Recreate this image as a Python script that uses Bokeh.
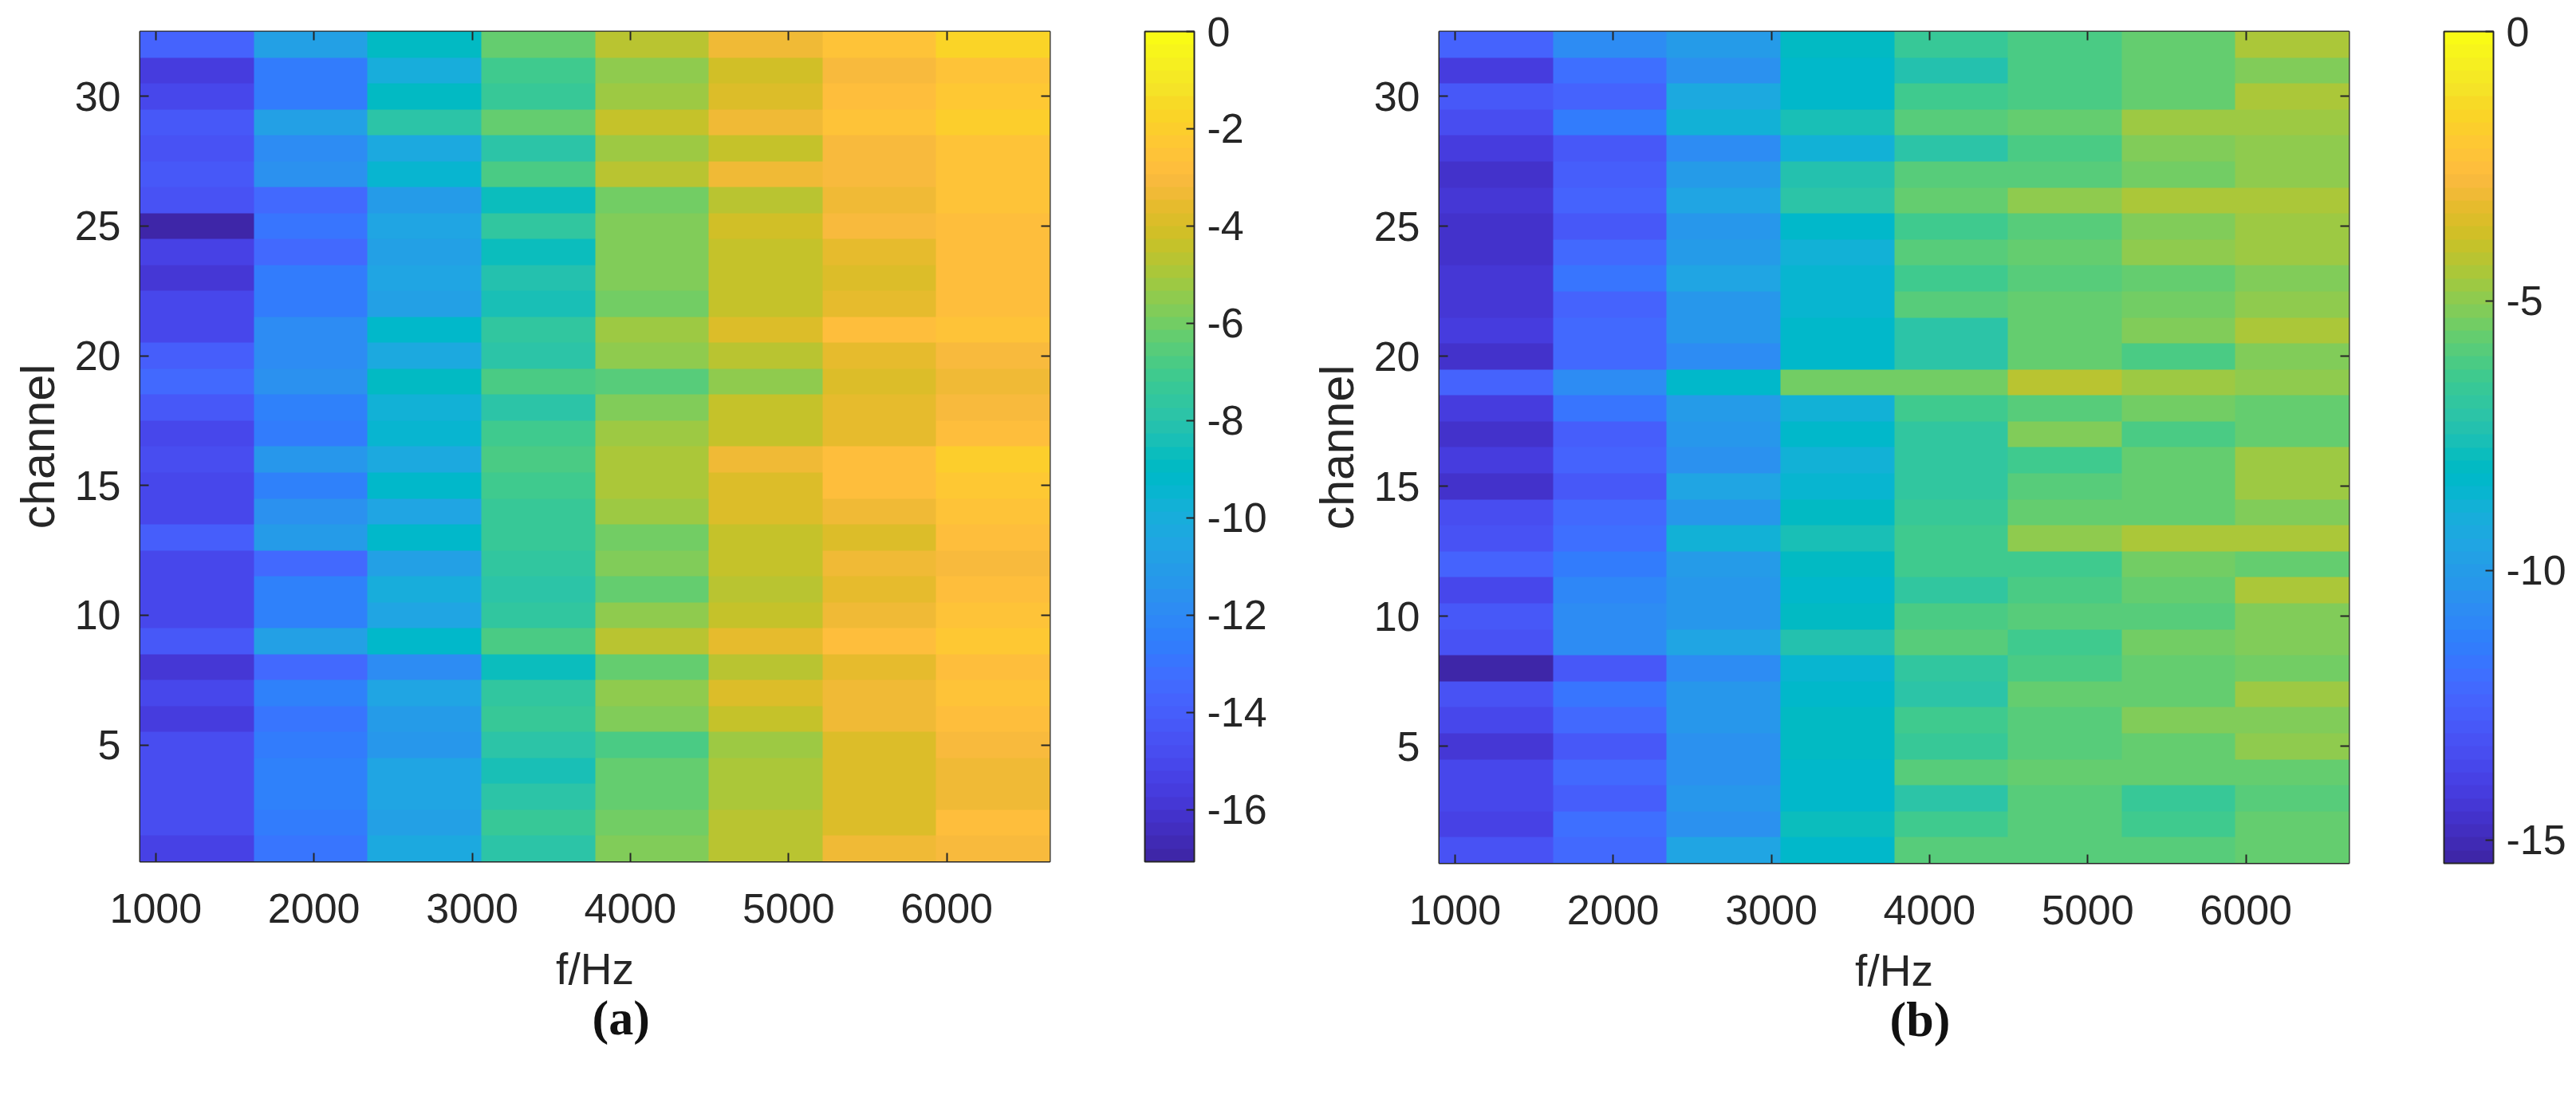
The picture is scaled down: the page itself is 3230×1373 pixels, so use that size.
from bokeh.plotting import figure
from bokeh.layouts import row
from bokeh.models import LinearColorMapper, ColorBar, FixedTicker, LinearAxis, Title, Range1d
from bokeh.embed import file_html
from bokeh.resources import INLINE
import numpy as np

FREQ_TICKS = [1000, 2000, 3000, 4000, 5000, 6000]
CHANNEL_TICKS = [5, 10, 15, 20, 25, 30]
CBAR_TICKS_A = [-16, -14, -12, -10, -8, -6, -4, -2, 0]
CBAR_TICKS_B = [-15, -10, -5, 0]
LOW_A = -17.07
LOW_B = -15.43

PARULA_RGB = [
    (0.2422,0.1504,0.6603),(0.2504,0.1650,0.7076),(0.2578,0.1818,0.7511),(0.2647,0.1978,0.7952),
    (0.2706,0.2147,0.8364),(0.2751,0.2342,0.8710),(0.2783,0.2559,0.8991),(0.2803,0.2782,0.9221),
    (0.2813,0.3006,0.9414),(0.2810,0.3228,0.9579),(0.2795,0.3447,0.9717),(0.2760,0.3667,0.9829),
    (0.2699,0.3892,0.9906),(0.2602,0.4123,0.9952),(0.2440,0.4358,0.9988),(0.2206,0.4603,0.9973),
    (0.1963,0.4847,0.9892),(0.1834,0.5074,0.9798),(0.1786,0.5289,0.9682),(0.1764,0.5499,0.9520),
    (0.1687,0.5703,0.9359),(0.1540,0.5902,0.9218),(0.1460,0.6091,0.9079),(0.1380,0.6276,0.8973),
    (0.1248,0.6459,0.8883),(0.1113,0.6635,0.8763),(0.0952,0.6798,0.8598),(0.0689,0.6948,0.8394),
    (0.0297,0.7082,0.8163),(0.0036,0.7203,0.7917),(0.0067,0.7312,0.7660),(0.0433,0.7411,0.7394),
    (0.0964,0.7500,0.7120),(0.1408,0.7584,0.6842),(0.1717,0.7670,0.6554),(0.1938,0.7758,0.6251),
    (0.2161,0.7843,0.5923),(0.2470,0.7918,0.5567),(0.2906,0.7973,0.5188),(0.3406,0.8008,0.4789),
    (0.3909,0.8029,0.4354),(0.4456,0.8024,0.3909),(0.5044,0.7993,0.3480),(0.5616,0.7942,0.3045),
    (0.6174,0.7876,0.2612),(0.6720,0.7793,0.2227),(0.7242,0.7698,0.1910),(0.7738,0.7598,0.1646),
    (0.8203,0.7498,0.1535),(0.8634,0.7406,0.1596),(0.9035,0.7330,0.1774),(0.9393,0.7288,0.2100),
    (0.9728,0.7298,0.2394),(0.9956,0.7434,0.2371),(0.9970,0.7659,0.2199),(0.9952,0.7861,0.1991),
    (0.9892,0.8086,0.1706),(0.9786,0.8328,0.1537),(0.9676,0.8568,0.1477),(0.9610,0.8890,0.1537),
    (0.9597,0.9135,0.1423),(0.9628,0.9373,0.1265),(0.9691,0.9606,0.1064),(0.9769,0.9839,0.0805),
]
PARULA = ["#%02x%02x%02x" % tuple(int(round(c * 255)) for c in rgb) for rgb in PARULA_RGB]

# Panel (a): one list per frequency band, channel 32 first, channel 1 last
a_band1 = [-13.7,-15.5,-15.0,-14.2,-14.5,-14.3,-14.5,-16.9,-15.4,-15.8,-15.0,-15.2,-14.0,-13.4,-14.3,-15.0,
           -14.8,-15.2,-15.0,-13.9,-15.2,-15.2,-15.1,-14.2,-15.9,-15.1,-15.7,-14.7,-14.8,-14.8,-14.9,-15.4]
a_band2 = [-10.7,-12.7,-12.7,-10.9,-12.0,-11.7,-13.6,-13.0,-13.6,-12.6,-12.8,-11.8,-11.8,-11.7,-12.4,-12.7,
           -11.3,-12.4,-11.7,-11.0,-13.4,-12.3,-12.3,-10.8,-13.6,-12.5,-13.0,-12.7,-12.3,-12.3,-12.6,-12.9]
a_band3 = [-9.0,-10.0,-9.0,-8.0,-10.2,-9.6,-11.2,-10.6,-10.7,-10.6,-10.9,-9.3,-10.3,-9.0,-9.7,-9.5,
           -10.2,-9.3,-10.5,-9.2,-10.9,-10.0,-10.6,-9.2,-11.8,-10.5,-11.0,-11.3,-10.5,-10.5,-10.8,-10.2]
a_band4 = [-6.4,-7.2,-7.3,-6.3,-7.9,-6.7,-8.6,-7.5,-8.6,-8.1,-8.5,-7.5,-8.0,-6.8,-7.8,-7.1,
           -6.7,-7.2,-7.3,-7.4,-7.5,-7.9,-7.7,-6.8,-8.8,-7.7,-7.3,-8.0,-8.4,-8.0,-7.4,-7.8]
a_band5 = [-4.8,-5.5,-5.15,-4.5,-5.3,-4.7,-6.0,-5.7,-5.7,-5.7,-6.0,-5.15,-5.5,-6.5,-5.65,-5.3,
           -5.0,-5.0,-5.3,-6.0,-5.65,-6.25,-5.5,-4.78,-6.4,-5.5,-5.65,-6.7,-6.25,-6.25,-6.0,-5.65]
a_band6 = [-3.4,-4.15,-3.9,-3.35,-4.34,-3.45,-4.7,-4.15,-4.5,-4.45,-4.5,-3.8,-4.7,-5.5,-4.34,-4.34,
           -3.45,-3.8,-3.9,-4.34,-4.5,-4.78,-4.34,-3.6,-4.78,-3.8,-4.45,-5.25,-5.05,-5.05,-4.78,-4.7]
a_band7 = [-2.65,-3.1,-2.9,-2.6,-3.15,-3.0,-3.4,-3.15,-3.6,-3.8,-3.6,-2.9,-3.7,-3.95,-3.6,-3.6,
           -2.75,-2.9,-3.3,-3.8,-3.4,-3.7,-3.3,-2.75,-3.7,-3.35,-3.35,-3.9,-3.95,-3.95,-3.8,-3.45]
a_band8 = [-1.7,-2.45,-2.4,-2.0,-2.6,-2.45,-2.65,-2.9,-2.9,-2.75,-2.9,-2.6,-3.15,-3.35,-3.15,-2.75,
           -2.0,-2.4,-2.45,-2.75,-3.1,-2.9,-2.6,-2.4,-2.75,-2.45,-2.75,-3.15,-3.3,-3.3,-2.9,-3.0]

# Panel (b)
b_band1 = [-12.5,-14.2,-13.0,-13.5,-14.2,-14.7,-14.45,-14.6,-14.6,-14.3,-14.3,-14.2,-14.6,-12.5,-14.1,-14.7,
           -14.2,-14.6,-13.5,-13.2,-12.5,-13.6,-13.0,-13.1,-15.2,-13.2,-13.7,-14.45,-13.7,-13.7,-13.96,-13.2]
b_band2 = [-10.8,-12.0,-12.5,-11.5,-13.0,-12.6,-12.4,-13.0,-12.25,-11.6,-12.4,-12.25,-12.25,-10.65,-11.8,-12.7,
           -12.5,-12.9,-12.25,-11.9,-11.4,-11.0,-10.65,-10.65,-12.9,-11.6,-12.25,-12.9,-12.25,-12.7,-11.9,-12.25]
b_band3 = [-10.0,-10.5,-9.4,-8.8,-10.65,-9.9,-9.55,-10.3,-9.9,-9.55,-10.3,-10.3,-10.65,-8.2,-9.9,-10.3,
           -10.5,-9.55,-10.2,-8.8,-9.9,-10.3,-10.3,-9.55,-10.8,-10.2,-10.3,-10.4,-10.5,-10.3,-10.5,-9.55]
b_band4 = [-8.1,-8.3,-8.2,-7.6,-8.8,-7.35,-7.0,-8.2,-8.7,-8.45,-8.6,-8.3,-8.3,-5.5,-8.8,-8.3,
           -8.7,-8.45,-8.1,-7.6,-8.1,-8.3,-8.1,-7.35,-8.6,-8.2,-8.1,-8.1,-8.3,-8.3,-7.85,-8.2]
b_band5 = [-6.6,-7.35,-6.35,-5.85,-7.0,-5.8,-5.7,-6.35,-6.0,-6.5,-6.0,-7.0,-7.1,-5.4,-6.35,-6.85,
           -6.85,-6.85,-6.6,-6.35,-6.5,-6.85,-6.1,-6.0,-6.85,-7.0,-6.5,-6.6,-5.85,-7.0,-6.35,-5.85]
b_band6 = [-6.1,-6.25,-6.25,-5.7,-6.1,-5.8,-4.85,-5.9,-5.7,-5.9,-5.55,-5.62,-5.55,-4.1,-5.8,-5.3,
           -6.35,-6.0,-5.55,-4.95,-6.35,-6.1,-5.9,-6.5,-6.25,-5.7,-5.9,-6.0,-5.7,-6.0,-5.9,-5.8]
b_band7 = [-5.62,-5.62,-5.55,-4.78,-5.3,-5.45,-4.55,-5.2,-4.95,-5.62,-5.45,-5.2,-6.1,-4.7,-5.45,-6.1,
           -5.62,-5.55,-5.55,-4.55,-5.45,-5.7,-5.8,-5.45,-5.55,-5.7,-5.3,-5.55,-5.7,-6.6,-6.35,-5.9]
b_band8 = [-4.55,-5.3,-4.55,-4.78,-4.95,-5.0,-4.55,-4.78,-4.78,-5.3,-4.95,-4.4,-5.1,-4.95,-5.55,-5.55,
           -4.7,-4.7,-5.2,-4.55,-5.55,-4.55,-5.1,-5.3,-5.45,-4.78,-5.3,-4.85,-5.62,-5.9,-5.62,-5.55]

A_BANDS = [a_band1, a_band2, a_band3, a_band4, a_band5, a_band6, a_band7, a_band8]
B_BANDS = [b_band1, b_band2, b_band3, b_band4, b_band5, b_band6, b_band7, b_band8]

INK = "#262626"
FONT = "Liberation Sans"
SIZE = "52px"


def hidden_axis(ticks):
    return LinearAxis(ticker=FixedTicker(ticks=ticks), major_tick_in=11, major_tick_out=0,
                      minor_tick_in=0, minor_tick_out=0,
                      major_tick_line_color=INK, major_tick_line_width=2, axis_line_color=None,
                      major_label_overrides={t: "" for t in ticks}, major_label_text_font_size="1px",
                      major_label_standoff=0)


def panel(bands, low, cticks, caption, caption_offset, cbar_x, top, frame_h, left, right):
    z = np.array(bands).T[::-1]
    mapper = LinearColorMapper(palette=PARULA, low=low, high=0)
    p = figure(frame_width=1141, frame_height=frame_h, output_backend="svg", toolbar_location=None,
               x_range=Range1d(900, 6652), y_range=Range1d(0.5, 32.5),
               min_border_left=left, min_border_right=right, min_border_top=top, min_border_bottom=285,
               background_fill_color="white", border_fill_color="white")
    p.image(image=[z], x=900, y=0.5, dw=5752, dh=32, color_mapper=mapper)
    p.grid.visible = False
    p.outline_line_color = INK
    p.outline_line_width = 2
    for ax, ticks, label, size in ((p.xaxis[0], FREQ_TICKS, "f/Hz", "55px"),
                                   (p.yaxis[0], CHANNEL_TICKS, "channel", "59px")):
        ax.ticker = FixedTicker(ticks=ticks)
        ax.axis_label = label
        ax.axis_label_text_font = FONT
        ax.axis_label_text_font_size = size
        ax.axis_label_text_font_style = "normal"
        ax.axis_label_text_color = INK
        ax.major_label_text_font = FONT
        ax.major_label_text_font_size = SIZE
        ax.major_label_text_color = INK
        ax.major_tick_in = 11
        ax.major_tick_out = 0
        ax.major_tick_line_color = INK
        ax.major_tick_line_width = 2
        ax.minor_tick_line_color = None
        ax.axis_line_color = INK
    p.xaxis[0].major_label_standoff = 40
    p.xaxis[0].axis_label_standoff = 24
    p.yaxis[0].major_label_standoff = 24
    p.yaxis[0].axis_label_standoff = 10
    p.add_layout(hidden_axis(FREQ_TICKS), "above")
    p.add_layout(hidden_axis(CHANNEL_TICKS), "right")

    cb = ColorBar(color_mapper=mapper, width=62, height=frame_h, location=(cbar_x, 0), margin=0, padding=0,
                  ticker=FixedTicker(ticks=cticks), major_tick_in=10, major_tick_out=0,
                  major_label_overrides={t: str(t) for t in cticks},
                  major_tick_line_color=INK, major_tick_line_width=2, minor_tick_line_color=None,
                  bar_line_color=INK, bar_line_width=2, label_standoff=16,
                  major_label_text_font=FONT, major_label_text_font_size=SIZE,
                  major_label_text_color=INK, background_fill_color=None, border_line_color=None)
    p.add_layout(cb)
    p.add_layout(Title(text=caption, align="left", offset=caption_offset, standoff=-17,
                       text_font="Liberation Serif", text_font_size="62px", text_font_style="bold",
                       text_color="#111111"), "below")
    return p


fig_a = panel(A_BANDS, LOW_A, CBAR_TICKS_A, "(a)", 567, 1260, 39, 1041, 175, 324)
fig_b = panel(B_BANDS, LOW_B, CBAR_TICKS_B, "(b)", 565, 1260, 37, 1043, 161, 281)

page = row(fig_a, fig_b, spacing=0)
open("out.html", "w").write(file_html(page, INLINE))
